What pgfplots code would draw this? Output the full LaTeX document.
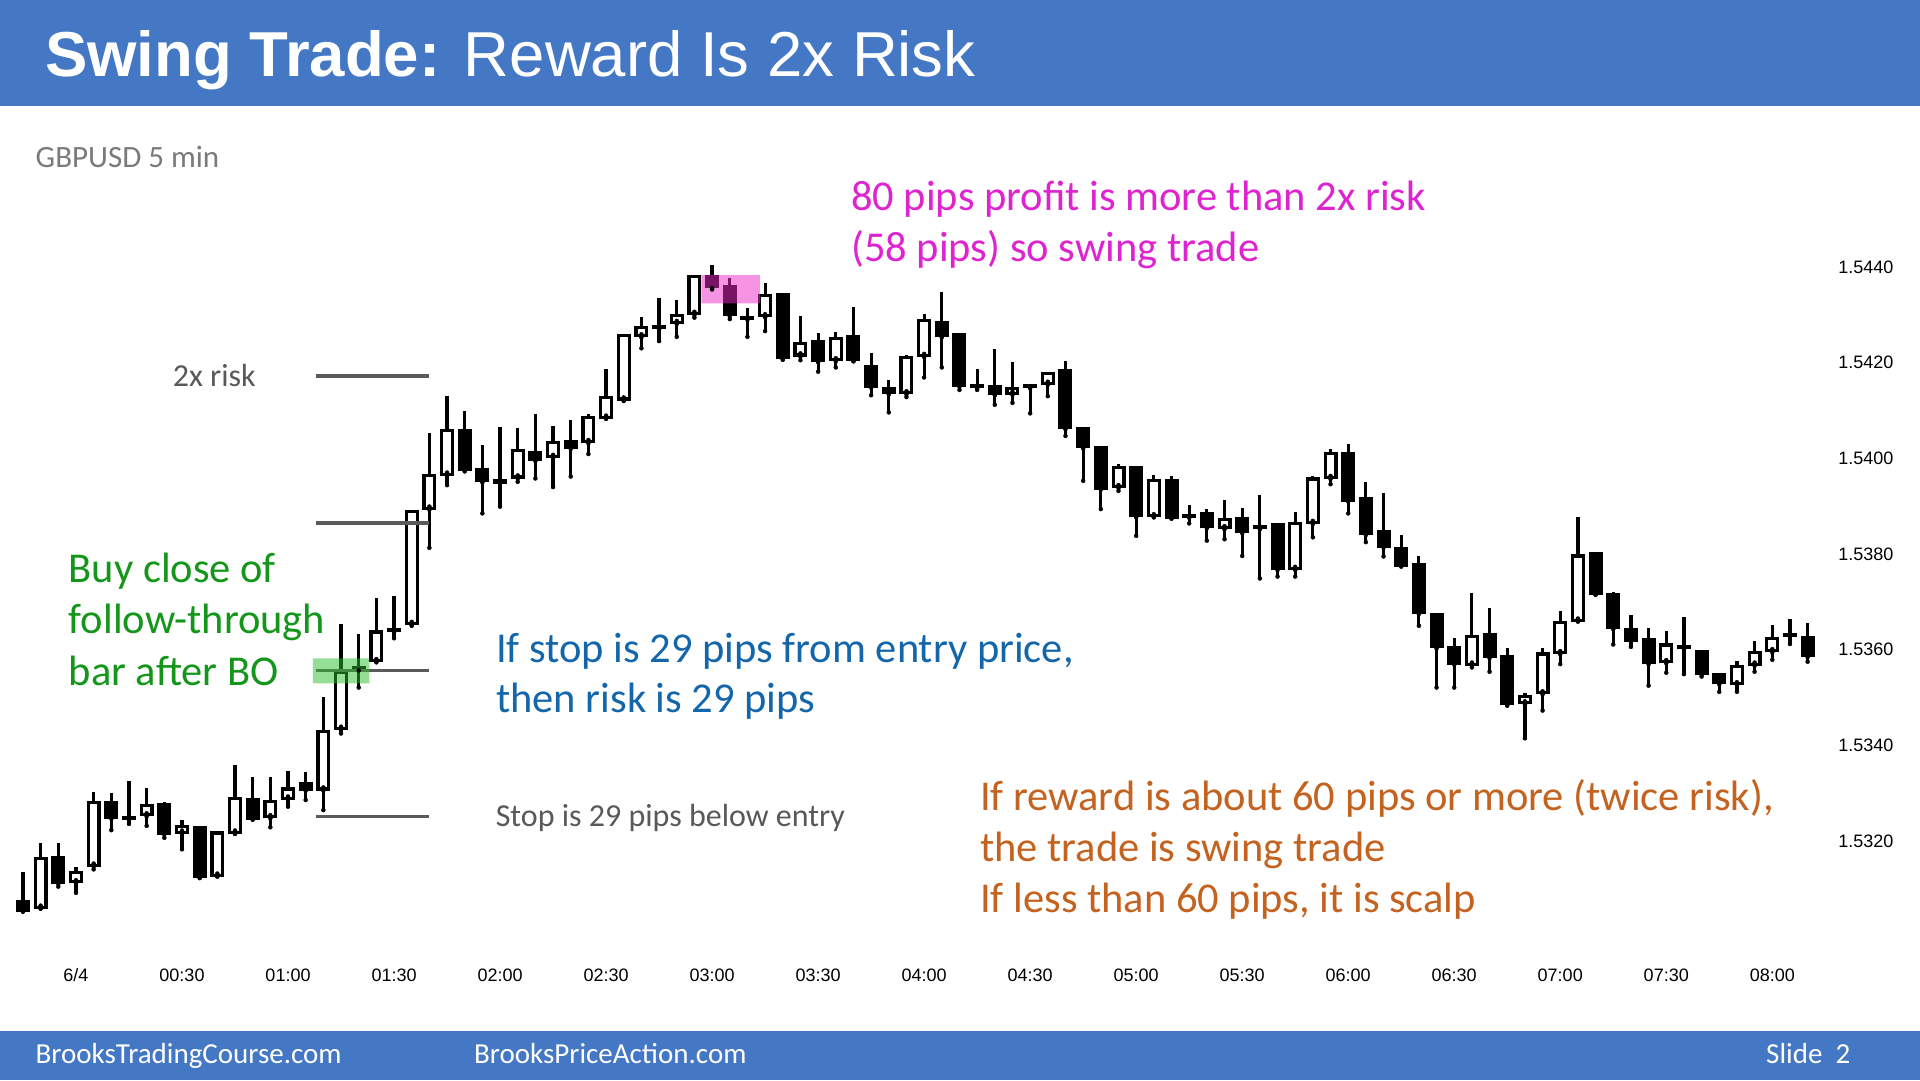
\documentclass[border=0pt]{standalone}
\usepackage{pgfplots}
\pgfplotsset{compat=1.18}
\usepackage{pgfplotstable}
\usepackage{fontspec}
\setmainfont{Carlito}
\newfontfamily\arialf{Liberation Sans}
\definecolor{barblue}{HTML}{4478C4}
\definecolor{tmag}{HTML}{DE24D0}
\definecolor{tgreen}{HTML}{14961A}
\definecolor{tblue}{HTML}{1366AA}
\definecolor{torange}{HTML}{C4621F}
\definecolor{tgray}{HTML}{595959}
\definecolor{tlgray}{HTML}{7A7A7A}
\definecolor{lgray}{HTML}{5A5A5A}
\definecolor{pinkbox}{HTML}{F028C8}
\definecolor{greenbox}{HTML}{2CBE2C}

% pips above 1.5300 ; i = 5-min bar index, 0 = 00:00
\pgfplotstableread{
i o h l c
-3 7.4 13.6 5.3 5.6
-2 6.2 19.7 6.0 16.3
-1 16.6 19.7 10.5 11.4
0 11.5 14.7 9.2 13.5
1 15.0 30.2 14.1 28.1
2 28.1 30.0 22.3 25.0
3 25.0 32.6 23.6 24.8
4 25.5 31.2 23.2 27.4
5 27.6 28.1 20.7 21.7
6 21.9 24.4 18.3 23.0
7 22.9 23.0 12.4 12.6
8 12.9 22.0 12.7 21.7
9 21.9 35.9 21.5 29.0
10 28.6 33.4 24.6 24.8
11 25.1 33.4 22.9 28.3
12 29.0 34.7 27.2 30.9
13 32.1 34.4 28.6 30.9
14 30.9 50.2 26.5 43.0
15 43.6 65.3 42.5 55.3
16 56.0 63.2 52.1 56.2
17 57.7 70.8 57.5 63.7
18 64.2 71.3 62.4 64.0
19 65.5 89.2 65.0 88.9
20 89.6 105.2 81.3 96.4
21 96.7 113.1 94.4 105.9
22 105.9 109.9 97.4 97.6
23 97.7 102.7 88.5 95.3
24 95.3 106.6 89.9 95.0
25 96.1 106.3 95.1 101.6
26 101.2 109.3 95.8 99.8
27 100.4 106.8 94.0 103.3
28 103.5 108.0 96.2 102.3
29 103.5 109.2 100.9 108.6
30 108.6 118.6 108.3 112.8
31 112.4 126.0 112.0 125.6
32 125.6 129.6 123.0 127.3
33 127.3 133.5 124.5 127.6
34 128.4 133.1 125.4 129.8
35 130.3 138.3 129.4 138.0
36 138.0 140.4 135.3 135.9
37 135.9 137.6 129.1 130.0
38 129.5 131.4 125.4 129.3
39 129.8 136.6 126.6 134.0
40 134.3 134.6 120.6 121.0
41 121.6 129.8 120.5 124.0
42 124.3 126.1 118.1 120.4
43 120.6 126.5 119.0 125.1
44 125.4 131.7 120.3 120.6
45 119.2 122.0 113.2 115.1
46 114.6 116.4 109.6 113.7
47 113.7 121.6 112.8 121.0
48 121.5 130.1 116.9 128.8
49 128.4 134.8 119.0 125.6
50 125.8 126.0 114.3 115.3
51 115.2 118.6 114.3 115.0
52 114.9 122.8 111.2 113.5
53 113.6 120.2 111.6 114.6
54 115.2 115.4 109.4 115.0
55 115.7 118.0 113.0 117.8
56 118.3 120.4 104.7 106.4
57 106.3 106.5 95.3 102.4
58 102.3 102.5 89.4 93.8
59 94.1 98.8 93.2 98.1
60 98.1 98.4 83.8 88.0
61 88.0 96.5 87.7 95.3
62 95.3 96.3 87.5 87.7
63 88.1 90.3 86.4 87.9
64 88.4 89.4 82.8 85.7
65 85.5 91.2 83.1 87.3
66 87.5 89.6 79.6 84.7
67 85.7 92.4 74.9 85.5
68 86.1 86.4 75.3 77.0
69 77.0 88.7 75.3 86.3
70 86.6 96.3 83.5 95.7
71 96.0 102.0 94.6 101.1
72 100.9 102.9 88.5 91.3
73 91.5 95.1 82.5 84.3
74 84.6 92.7 79.5 81.7
75 81.2 84.0 77.5 77.7
76 77.7 79.5 65.0 67.8
77 67.4 67.6 52.1 60.6
78 60.4 62.5 52.1 57.2
79 57.0 71.8 56.3 62.7
80 63.1 68.8 55.4 58.6
81 58.6 60.3 48.3 48.8
82 48.9 50.9 41.5 50.2
83 51.0 60.4 47.3 59.1
84 59.4 68.0 57.0 65.7
85 66.2 87.8 66.0 79.6
86 80.2 80.4 71.6 71.8
87 71.5 72.1 61.1 64.6
88 64.3 67.3 60.6 62.0
89 62.2 64.6 52.5 57.3
90 57.5 64.0 55.2 61.0
91 60.6 66.9 54.9 60.4
92 59.7 59.9 54.4 55.1
93 54.9 55.2 51.2 53.1
94 52.9 57.7 51.2 56.5
95 57.0 61.9 55.4 59.4
96 59.8 65.2 57.9 62.4
97 63.0 66.4 61.2 63.2
98 62.5 65.5 57.5 58.8
}\candles

\begin{document}
\begin{tikzpicture}[x=1pt,y=1pt]
\path[use as bounding box] (0,0) rectangle (1920,1080);
\fill[white] (0,0) rectangle (1920,1080);
\fill[barblue] (0,973.5) rectangle (1920,1080);
\fill[barblue] (0,0) rectangle (1920,49);

\begin{axis}[
  at={(5.3pt,119.2pt)}, anchor=south west,
  scale only axis, width=1828.8pt, height=741.7pt,
  xmin=-4, xmax=99.5, ymin=-5, ymax=150,
  axis x line*=bottom, axis y line*=right,
  axis line style={draw=none},
  major tick length=0pt,
  xtick={0,6,...,96},
  xticklabels={6/4,00:30,01:00,01:30,02:00,02:30,03:00,03:30,04:00,04:30,05:00,05:30,06:00,06:30,07:00,07:30,08:00},
  ytick={20,40,...,140},
  yticklabels={1.5320,1.5340,1.5360,1.5380,1.5400,1.5420,1.5440},
  xticklabel style={font=\arialf\fontsize{18}{20}\selectfont, inner sep=0pt, yshift=-7.7pt},
  yticklabel style={font=\arialf\fontsize{18}{20}\selectfont, inner sep=0pt, xshift=4pt},
]
% wicks
\addplot[only marks, mark=none, forget plot,
  error bars/.cd, y dir=plus, y explicit, error mark=none,
  error bar style={line width=3.2pt, draw=black, line cap=butt}]
  table[x=i, y=l, y error plus expr={\thisrow{h}-\thisrow{l}}] {\candles};
% bodies (outline / filled)
\addplot[only marks, mark=none, forget plot,
  error bars/.cd, y dir=plus, y explicit, error mark=none,
  error bar style={line width=14pt, draw=black, line cap=butt}]
  table[x=i, y expr={min(\thisrow{o},\thisrow{c})-0.33}, y error plus expr={abs(\thisrow{c}-\thisrow{o})+0.66}] {\candles};
% hollow interiors of up bars
\addplot[only marks, mark=none, forget plot,
  restrict expr to domain={\thisrow{c}-\thisrow{o}}{0.7:1000},
  error bars/.cd, y dir=plus, y explicit, error mark=none,
  error bar style={line width=7.6pt, draw=white, line cap=butt}]
  table[x=i, y expr={\thisrow{o}+0.33}, y error plus expr={\thisrow{c}-\thisrow{o}-0.66}] {\candles};
% risk levels
\addplot[lgray, line width=3.4pt, forget plot] coordinates {(13.6,117.2) (20.0,117.2)};
\addplot[lgray, line width=3.4pt, forget plot] coordinates {(13.6,86.5) (20.0,86.5)};
\addplot[lgray, line width=3.4pt, forget plot] coordinates {(13.6,55.7) (20.0,55.7)};
\addplot[lgray, line width=3.4pt, forget plot] coordinates {(13.6,25.2) (20.0,25.2)};
% highlight boxes
\addplot[fill=greenbox, draw=none, fill opacity=0.5, forget plot] coordinates {(13.4,53.0) (16.6,53.0) (16.6,58.2) (13.4,58.2) (13.4,53.0)};
\addplot[fill=pinkbox, draw=none, fill opacity=0.5, forget plot] coordinates {(35.4,132.4) (38.7,132.4) (38.7,138.3) (35.4,138.3) (35.4,132.4)};
\end{axis}

\node[anchor=base west, text=white, font=\arialf\fontsize{63.5}{70}\selectfont, inner sep=0pt] at (45,1003) {\textbf{Swing Trade:} Reward Is 2x Risk};
\node[anchor=base west, text=tlgray, font=\fontsize{31}{36}\selectfont, inner sep=0pt] at (35.5,912.3) {GBPUSD 5 min};
\node[anchor=base west, text=tmag, font=\fontsize{42.5}{50}\selectfont, inner sep=0pt] at (851,869.4) {80 pips profit is more than 2x risk};
\node[anchor=base west, text=tmag, font=\fontsize{42.5}{50}\selectfont, inner sep=0pt] at (851,818) {(58 pips) so swing trade};
\node[anchor=base west, text=tgray, font=\fontsize{32}{36}\selectfont, inner sep=0pt] at (172.7,693) {2x risk};
\node[anchor=base west, text=tgreen, font=\fontsize{42.5}{50}\selectfont, inner sep=0pt] at (68.6,497) {Buy close of};
\node[anchor=base west, text=tgreen, font=\fontsize{42.5}{50}\selectfont, inner sep=0pt] at (68.6,446) {follow-through};
\node[anchor=base west, text=tgreen, font=\fontsize{42.5}{50}\selectfont, inner sep=0pt] at (68.6,394) {bar after BO};
\node[anchor=base west, text=tblue, font=\fontsize{42.5}{50}\selectfont, inner sep=0pt] at (496,417.5) {If stop is 29 pips from entry price,};
\node[anchor=base west, text=tblue, font=\fontsize{42.5}{50}\selectfont, inner sep=0pt] at (496,367) {then risk is 29 pips};
\node[anchor=base west, text=tgray, font=\fontsize{32}{36}\selectfont, inner sep=0pt] at (495.6,253.3) {Stop is 29 pips below entry};
\node[anchor=base west, text=torange, font=\fontsize{42.5}{50}\selectfont, inner sep=0pt] at (980,269.4) {If reward is about 60 pips or more (twice risk),};
\node[anchor=base west, text=torange, font=\fontsize{42.5}{50}\selectfont, inner sep=0pt] at (980,219) {the trade is swing trade};
\node[anchor=base west, text=torange, font=\fontsize{42.5}{50}\selectfont, inner sep=0pt] at (980,168) {If less than 60 pips, it is scalp};
\node[anchor=base west, text=white, font=\fontsize{29}{32}\selectfont, inner sep=0pt] at (35.5,17) {BrooksTradingCourse.com};
\node[anchor=base west, text=white, font=\fontsize{29}{32}\selectfont, inner sep=0pt] at (474,17) {BrooksPriceAction.com};
\node[anchor=base west, text=white, font=\fontsize{29}{32}\selectfont, inner sep=0pt] at (1766,17) {Slide\ \ 2};
\end{tikzpicture}
\end{document}
